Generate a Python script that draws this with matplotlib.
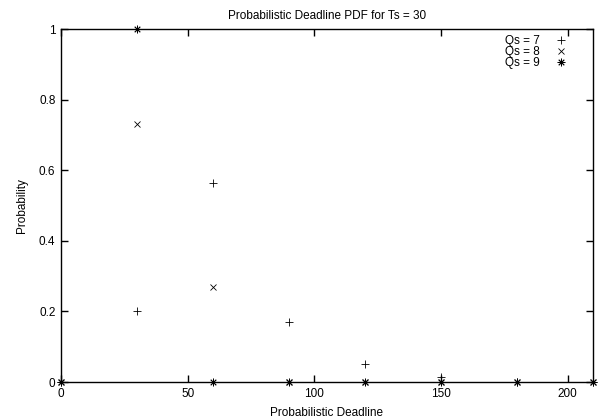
import matplotlib
matplotlib.use("Agg")
import matplotlib.pyplot as plt

plt.rcParams['font.family'] = ['Liberation Sans', 'DejaVu Sans']

deadline = [0, 30, 60, 90, 120, 150, 180, 210]
qs7 = [0, 0.2, 0.563, 0.17, 0.05, 0.013, 0, 0]
qs8 = [0, 0.732, 0.268, 0, 0, 0, 0, 0]
qs9 = [0, 1.0, 0, 0, 0, 0, 0, 0]
labels = ["Qs = 7", "Qs = 8", "Qs = 9"]
xticks = [0, 50, 100, 150, 200]
yticks = [0, 0.2, 0.4, 0.6, 0.8, 1]
yticklabels = ["0", "0.2", "0.4", "0.6", "0.8", "1"]

fig = plt.figure(figsize=(5.99, 4.19), dpi=100)
ax = fig.add_axes([61/599, 1-382/419, (593-61)/599, (382-29)/419])

ax.plot(deadline, qs7, linestyle='none', marker='+', markersize=5.5, mew=0.6, color='black', label=labels[0], clip_on=False)
ax.plot(deadline, qs8, linestyle='none', marker='x', markersize=4.5, mew=0.6, color='black', label=labels[1], clip_on=False)
ax.plot(deadline, qs9, linestyle='none', marker=(8, 2, 0), markersize=5.5, mew=0.6, color='black', label=labels[2], clip_on=False)

ax.set_xlim(0, 210)
ax.set_ylim(0, 1)
ax.set_xticks(xticks)
ax.set_xticklabels([str(t) for t in xticks])
ax.set_yticks(yticks)
ax.set_yticklabels(yticklabels)
ax.tick_params(direction='in', top=True, right=True, length=5, width=1, labelsize=8.5, pad=4)
for s in ax.spines.values():
    s.set_linewidth(1)

ax.set_title("Probabilistic Deadline PDF for Ts = 30", fontsize=8.5, pad=7)
ax.set_xlabel("Probabilistic Deadline", fontsize=8.5, labelpad=5)
ax.set_ylabel("Probability", fontsize=8.5, labelpad=8)

leg = ax.legend(loc='upper right', frameon=False, markerfirst=False, fontsize=8.5,
                handlelength=1.5, handletextpad=1.06, labelspacing=-0.1, handleheight=0.5,
                borderaxespad=0.1, bbox_to_anchor=(0.968, 1.0))

fig.savefig("out.png", dpi=100)
